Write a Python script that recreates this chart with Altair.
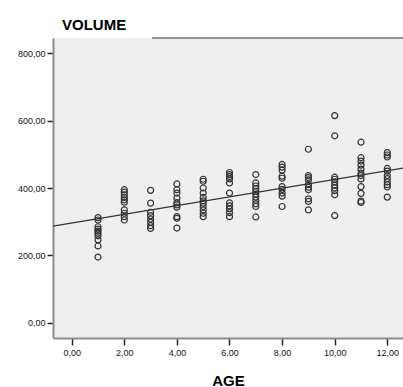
import altair as alt
import pandas as pd

ages = [1, 2, 3, 4, 5, 6, 7, 8, 9, 10, 11, 12]
volume_age_1 = [312, 305, 285, 278, 272, 266, 258, 246, 228, 195]
volume_age_2 = [395, 388, 380, 372, 365, 358, 335, 325, 315, 305]
volume_age_3 = [393, 355, 328, 318, 308, 298, 288, 280]
volume_age_4 = [412, 395, 385, 370, 357, 350, 343, 315, 310, 281]
volume_age_5 = [426, 420, 400, 385, 372, 362, 355, 345, 335, 325, 315]
volume_age_6 = [446, 440, 434, 427, 415, 385, 356, 347, 338, 327, 315]
volume_age_7 = [440, 415, 406, 398, 390, 382, 373, 363, 353, 345, 314]
volume_age_8 = [470, 462, 453, 435, 429, 404, 396, 385, 376, 345]
volume_age_9 = [515, 437, 431, 424, 410, 402, 395, 368, 360, 335]
volume_age_10 = [615, 555, 432, 426, 418, 408, 400, 392, 380, 318]
volume_age_11 = [536, 490, 480, 468, 456, 444, 437, 427, 404, 384, 361, 357]
volume_age_12 = [505, 498, 492, 458, 450, 437, 428, 418, 410, 403, 373]

volumes_by_age = [volume_age_1, volume_age_2, volume_age_3, volume_age_4,
                  volume_age_5, volume_age_6, volume_age_7, volume_age_8,
                  volume_age_9, volume_age_10, volume_age_11, volume_age_12]

# Fit line (total): its ends at the plot edges
fit_age = [-0.711, 12.597]
fit_volume = [287, 459]

x_ticks = [0, 2, 4, 6, 8, 10, 12]
y_ticks = [0, 200, 400, 600, 800]

rows = []
for a, vols in zip(ages, volumes_by_age):
    for v in vols:
        rows.append({"AGE": a, "VOLUME": v})
points_df = pd.DataFrame(rows)
fit_df = pd.DataFrame({"AGE": fit_age, "VOLUME": fit_volume})

label_expr = "replace(format(datum.value, '.2f'), '.', ',')"

x_scale = alt.Scale(domain=[-0.711, 12.597], nice=False, zero=False)
y_scale = alt.Scale(domain=[-45.4, 845.4], nice=False, zero=False)

x_axis = alt.Axis(values=x_ticks, labelExpr=label_expr, title="AGE", grid=False,
                  titleFontSize=15, titleFontWeight="bold", titleColor="#000000",
                  titleFont="Liberation Sans", titleBaseline="alphabetic", titleY=47,
                  tickSize=7, labelPadding=3)
y_axis = alt.Axis(values=y_ticks, labelExpr=label_expr, title=None, grid=False,
                  tickSize=6, labelPadding=2)

points = alt.Chart(points_df).mark_point(
    shape="circle", filled=False, size=36, strokeWidth=1.2, color="#333333", opacity=1
).encode(
    x=alt.X("AGE:Q", scale=x_scale, axis=x_axis),
    y=alt.Y("VOLUME:Q", scale=y_scale, axis=y_axis),
)

fit = alt.Chart(fit_df).mark_line(color="#333333", strokeWidth=1.3, clip=True).encode(
    x=alt.X("AGE:Q", scale=x_scale, axis=x_axis),
    y=alt.Y("VOLUME:Q", scale=y_scale, axis=y_axis),
)

top_border = alt.Chart(fit_df).mark_rule(color="#8c8c8c", strokeWidth=1.5).encode(
    x=alt.value(99), x2=alt.value(350), y=alt.value(0)
)

chart = alt.layer(fit, points, top_border).properties(
    width=350,
    height=300,
    autosize="none",
    background="white",
    padding={"left": 53, "top": 38, "right": 0, "bottom": 49},
    title=alt.TitleParams(text="VOLUME", anchor="start", frame="group", dx=9,
                          dy=22, offset=14, baseline="alphabetic", fontSize=15,
                          fontWeight="bold", font="Liberation Sans", color="#000000"),
).configure_view(
    fill="#efefef", strokeWidth=0
).configure_axis(
    grid=False,
    domainColor="#8c8c8c", domainWidth=2,
    tickColor="#222222", tickWidth=1.5,
    labelFont="Liberation Sans", labelFontSize=9, labelColor="#111111",
)

chart.save("out.html", embed_options={"renderer": "svg", "actions": False})
